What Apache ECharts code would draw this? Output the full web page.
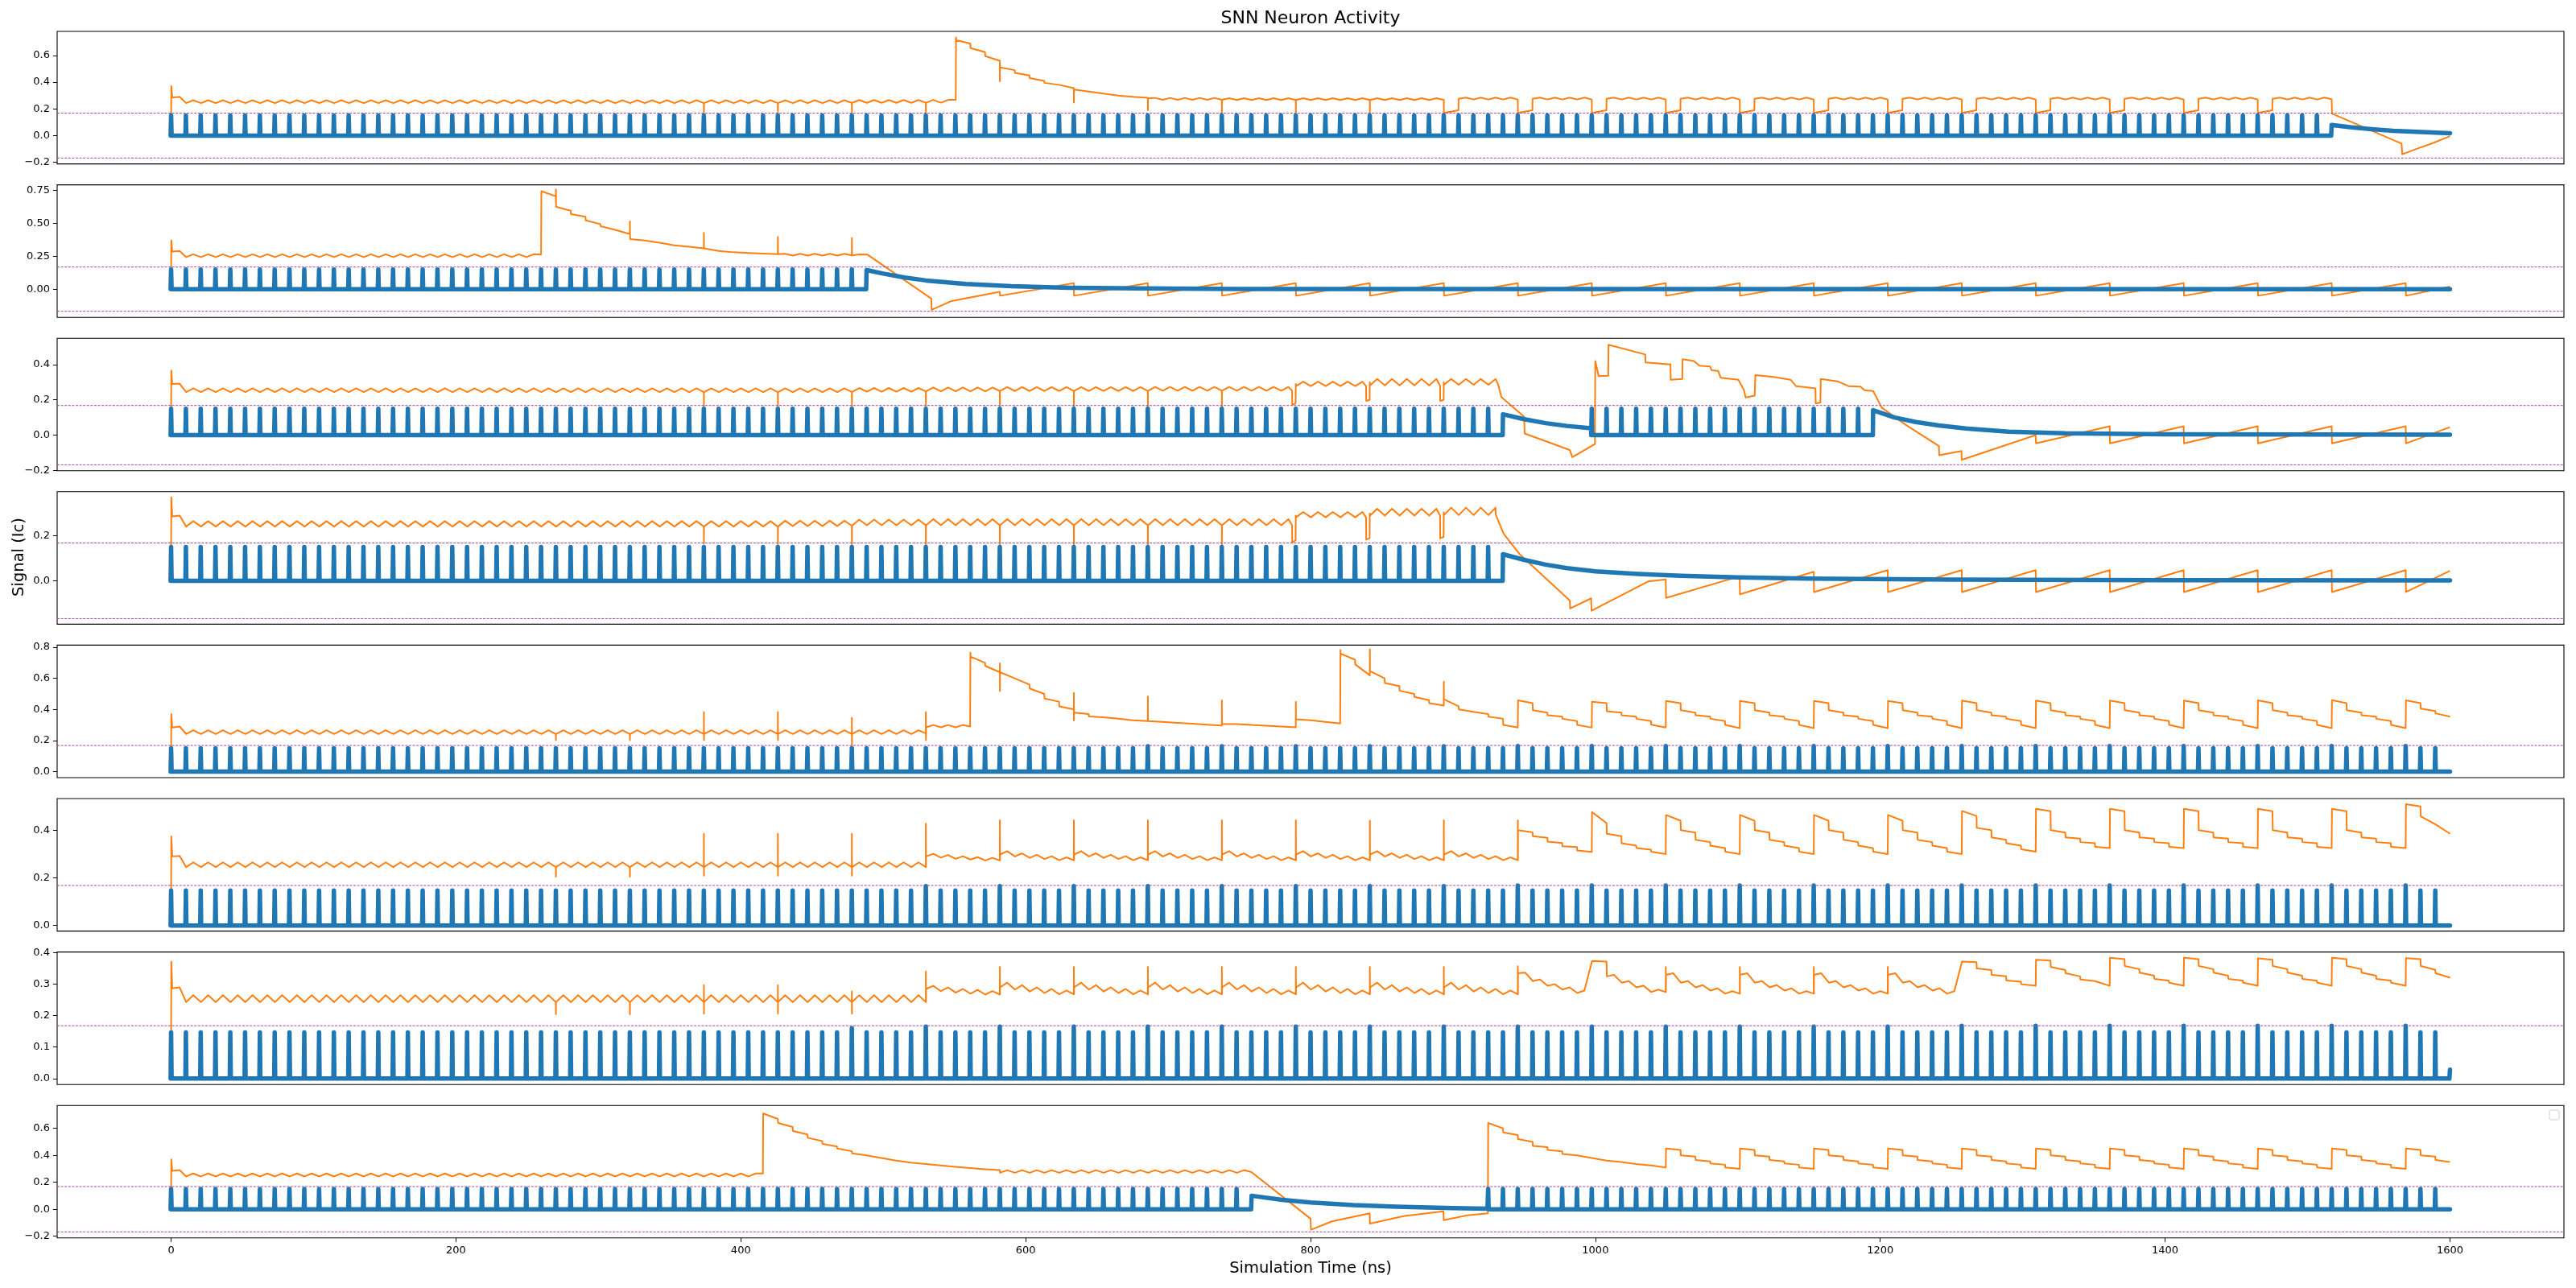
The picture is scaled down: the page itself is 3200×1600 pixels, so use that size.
<!DOCTYPE html>
<html><head><meta charset="utf-8">
<script src="https://cdn.jsdelivr.net/npm/echarts@6/dist/echarts.min.js"></script>
<style>html,body{margin:0;padding:0;background:#fff}#c{width:3200px;height:1600px}</style>
</head><body><div id="c"></div>
<script>
// spike spacing (ns)
const SPIKE_PERIOD = 10.39;
const P = SPIKE_PERIOD;

const xTicks = [0,200,400,600,800,1000,1200,1400,1600];
const yMin = [-0.212,-0.214,-0.202,-0.193,-0.039,-0.0235,-0.019,-0.213];
const yMax = [0.78,0.792,0.549,0.396,0.814,0.533,0.4025,0.77];
const yTicks = [[-0.2,0,0.2,0.4,0.6],[0,0.25,0.5,0.75],[-0.2,0,0.2,0.4],[0,0.2],[0,0.2,0.4,0.6,0.8],[0,0.2,0.4],[0,0.1,0.2,0.3,0.4],[-0.2,0,0.2,0.4,0.6]];
const yDecimals = [1,2,1,1,1,1,1,1];
const thresholds = [0.168,-0.168];

// entry codes: v=[t,v] vertex, t=teeth run, z=teeth list, s=step list, x=narrow excursion,
// y=double excursion, n=notch, r=ramps every 5 spikes, p=spike run
const orange1 = [
 ['v',0,0.1],['v',0.15,0.37],['v',0.8,0.285],['v',6,0.29],
 ['t',1,35,0.243,0.265],
 ['x',36,0.17,0.243],['t',36,5,0.243,0.265],
 ['x',41,0.17,0.243],['t',41,5,0.243,0.265],
 ['x',46,0.17,0.245],['t',46,5,0.245,0.266],
 ['x',51,0.17,0.246],['t',51,2,0.246,0.267],
 ['v',550.9,0.268],['v',551.1,0.735],
 ['s',53,0.715,0.69,0.655,0.625,0.595,0.56],
 ['x',56,0.406,0.53],
 ['s',56,0.51,0.49,0.47,0.45,0.43,0.41,0.395,0.38,0.37,0.355],
 ['x',61,0.246,0.345],
 ['s',61,0.34,0.33,0.322,0.314,0.306,0.3,0.295,0.29,0.287,0.283],
 ['x',66,0.19,0.28],['t',66,5,0.268,0.282],
 ['x',71,0.17,0.268],['t',71,5,0.266,0.28],
 ['x',76,0.17,0.266],['t',76,5,0.266,0.28],
 ['x',81,0.17,0.266],['t',81,5,0.266,0.28],
 ['n',86,87,0.268,0.17,0.19,0.275],['t',87,4,0.27,0.284],
 ['n',91,92,0.27,0.17,0.19,0.275],['t',92,4,0.27,0.284],
 ['n',96,97,0.27,0.17,0.19,0.275],['t',97,4,0.27,0.284],
 ['n',101,102,0.27,0.17,0.19,0.275],['t',102,4,0.27,0.284],
 ['n',106,107,0.27,0.17,0.19,0.275],['t',107,4,0.27,0.284],
 ['n',111,112,0.27,0.17,0.19,0.275],['t',112,4,0.27,0.284],
 ['n',116,117,0.27,0.17,0.19,0.275],['t',117,4,0.27,0.284],
 ['n',121,122,0.27,0.17,0.19,0.275],['t',122,4,0.27,0.284],
 ['n',126,127,0.27,0.17,0.19,0.275],['t',127,4,0.27,0.284],
 ['n',131,132,0.27,0.17,0.19,0.275],['t',132,4,0.27,0.284],
 ['n',136,137,0.27,0.17,0.19,0.275],['t',137,4,0.27,0.284],
 ['n',141,142,0.27,0.17,0.19,0.275],['t',142,4,0.27,0.284],
 ['v',1516.9,0.272],['v',1517.2,0.165],['v',1566,-0.06],['v',1566.5,-0.14],['v',1577,-0.098],['v',1588,-0.056],['v',1600,-0.004]
];
const orange2 = [
 ['v',0,0.1],['v',0.15,0.37],['v',0.8,0.285],['v',6,0.29],
 ['t',1,24,0.243,0.265],
 ['v',259.75,0.262],['v',259.95,0.744],
 ['s',25,0.735,0.705],
 ['x',26,0.758,0.652],
 ['s',26,0.625,0.595,0.57,0.55,0.522,0.494,0.478,0.45,0.438,0.418],
 ['x',31,0.514,0.407],
 ['s',31,0.38,0.37,0.362,0.352,0.343,0.333,0.33,0.322,0.316,0.31],
 ['x',36,0.428,0.31],
 ['s',36,0.298,0.29,0.287,0.28,0.28,0.274,0.275,0.27,0.27,0.266],
 ['x',41,0.397,0.266],['t',41,5,0.255,0.268],
 ['x',46,0.387,0.256],['t',46,1,0.256,0.264],
 ['v',489,0.262],['v',533.7,-0.071],['v',534,-0.157],['v',548,-0.09],['v',581.8,-0.02],
 ['r',56,19,-0.05,0.045],
 ['v',1569.1,-0.05],['v',1600,0.02]
];
const orange3 = [
 ['v',0,0.1],['v',0.15,0.366],['v',0.8,0.29],['v',6,0.292],
 ['t',1,35,0.244,0.265],
 ['x',36,0.165,0.244],['t',36,5,0.244,0.265],
 ['x',41,0.165,0.244],['t',41,5,0.244,0.265],
 ['x',46,0.165,0.245],['t',46,5,0.246,0.267],
 ['x',51,0.165,0.248],['t',51,5,0.248,0.27],
 ['x',56,0.16,0.25],['t',56,5,0.25,0.272],
 ['x',61,0.16,0.25],['t',61,5,0.25,0.272],
 ['x',66,0.135,0.25],['t',66,5,0.252,0.273],
 ['x',71,0.13,0.252],['t',71,5,0.252,0.273],
 ['n',75.75,76,0.252,0.171,0.18,0.29],['t',76,5,0.278,0.303],
 ['n',80.75,81,0.278,0.194,0.2,0.3],['t',81,5,0.282,0.318],
 ['n',85.75,86,0.28,0.194,0.2,0.3],['t',86,4,0.285,0.318],
 ['v',931.6,0.29],['v',934,0.216],['v',950,0.104],['v',950.3,0.009],['v',982,-0.084],['v',983.8,-0.125],['v',999.7,-0.051],
 ['v',999.9,0.42],['v',1002.3,0.334],['v',1009,0.337],['v',1009.2,0.512],['v',1035,0.457],['v',1035.2,0.412],['v',1052.7,0.4],
 ['v',1052.9,0.314],['v',1061,0.318],['v',1061.2,0.43],['v',1069.2,0.42],['v',1073,0.394],['v',1080.4,0.389],['v',1081.7,0.367],
 ['v',1086.2,0.364],['v',1088,0.325],['v',1100.4,0.314],['v',1101.7,0.294],['v',1104.2,0.258],['v',1105.5,0.213],['v',1111.8,0.224],
 ['v',1112.3,0.34],['v',1125,0.33],['v',1137,0.314],['v',1141,0.277],['v',1149,0.27],['v',1154.5,0.265],['v',1154.7,0.179],
 ['v',1158,0.185],['v',1158.2,0.318],['v',1170,0.305],['v',1178,0.277],['v',1186,0.275],['v',1189,0.254],['v',1195,0.25],
 ['v',1201,0.156],['v',1218,0.058],['v',1241.2,-0.062],['v',1241.4,-0.114],['v',1257,-0.09],['v',1257.2,-0.14],['v',1309.1,0.0],
 ['r',126,5,-0.047,0.05],
 ['v',1569.1,-0.047],['v',1600,0.045]
];
const orange4 = [
 ['v',0,0.1],['v',0.15,0.371],['v',0.8,0.286],['v',6,0.29],
 ['t',1,35,0.241,0.265],
 ['x',36,0.165,0.241],['t',36,5,0.241,0.265],
 ['x',41,0.16,0.241],['t',41,5,0.243,0.267],
 ['x',46,0.154,0.245],['t',46,5,0.247,0.272],
 ['x',51,0.154,0.247],['t',51,5,0.247,0.274],
 ['x',56,0.154,0.247],['t',56,5,0.247,0.274],
 ['x',61,0.154,0.247],['t',61,5,0.247,0.274],
 ['x',66,0.13,0.247],['t',66,5,0.247,0.274],
 ['x',71,0.13,0.247],['t',71,5,0.247,0.274],
 ['n',75.75,76,0.247,0.17,0.18,0.29],['t',76,5,0.282,0.306],
 ['n',80.75,81,0.282,0.183,0.19,0.3],['t',81,5,0.29,0.32],
 ['n',85.75,86,0.29,0.189,0.195,0.305],['t',86,4,0.292,0.325],
 ['v',930,0.295],['v',935.5,0.21],['v',947,0.117],['v',982,-0.088],['v',982.3,-0.123],['v',997,-0.078],['v',997.3,-0.133],
 ['v',1037,-0.003],['v',1049.4,0.006],['v',1049.6,-0.076],['v',1101.3,0.02],['v',1101.5,-0.06],['v',1153.3,0.04],
 ['r',111,8,-0.05,0.047],
 ['v',1569.1,-0.05],['v',1600,0.044]
];
const orange5 = [
 ['v',0,0.1],['v',0.15,0.371],['v',0.8,0.284],['v',6,0.29],
 ['t',1,25,0.242,0.266],
 ['x',26,0.202,0.242],['t',26,5,0.242,0.266],
 ['x',31,0.202,0.242],['t',31,5,0.242,0.266],
 ['y',36,0.383,0.202,0.242],['t',36,5,0.242,0.266],
 ['y',41,0.383,0.202,0.242],['t',41,5,0.242,0.266],
 ['y',46,0.346,0.167,0.242],['t',46,5,0.242,0.266],
 ['y',51,0.383,0.202,0.245],['t',51,3,0.285,0.3],
 ['v',561.0,0.29],['v',561.2,0.765],
 ['s',54,0.74,0.7,0.68,0.64],
 ['y',56,0.697,0.518,0.64],
 ['s',56,0.63,0.6,0.59,0.56,0.535,0.5,0.47,0.45,0.42,0.4],
 ['y',61,0.506,0.329,0.4],
 ['s',61,0.38,0.37,0.355,0.35,0.345,0.34,0.335,0.33,0.33,0.325],
 ['x',66,0.483,0.325],
 ['s',66,0.325,0.32,0.318,0.314,0.312,0.308,0.306,0.302,0.3,0.297],
 ['x',71,0.458,0.305],
 ['s',71,0.31,0.305,0.305,0.3,0.3,0.295,0.295,0.29,0.29,0.285],
 ['x',76,0.45,0.337],
 ['s',76,0.337,0.33,0.325,0.32,0.32,0.31],
 ['v',820.8,0.31],['v',821.0,0.782],
 ['s',79,0.76,0.72,0.69,0.62],
 ['x',81,0.787,0.647],
 ['s',81,0.647,0.6,0.57,0.55,0.52,0.5,0.48,0.46,0.44,0.425],
 ['x',86,0.578,0.466],
 ['s',86,0.466,0.42,0.4,0.385,0.38,0.37,0.354,0.34,0.3,0.284],
 ['s',91,0.458,0.44,0.395,0.38,0.362,0.354,0.34,0.325,0.3,0.283],
 ['s',96,0.449,0.44,0.388,0.38,0.362,0.354,0.34,0.325,0.302,0.284],
 ['s',101,0.455,0.44,0.395,0.38,0.362,0.354,0.34,0.325,0.3,0.28],
 ['s',106,0.455,0.44,0.395,0.38,0.362,0.354,0.34,0.325,0.3,0.28],
 ['s',111,0.455,0.44,0.395,0.38,0.362,0.354,0.34,0.325,0.3,0.28],
 ['s',116,0.455,0.44,0.395,0.38,0.362,0.354,0.34,0.325,0.3,0.28],
 ['s',121,0.457,0.44,0.395,0.38,0.362,0.354,0.34,0.325,0.3,0.28],
 ['s',126,0.457,0.44,0.395,0.38,0.362,0.354,0.34,0.325,0.3,0.28],
 ['s',131,0.457,0.44,0.395,0.38,0.362,0.354,0.34,0.325,0.3,0.28],
 ['s',136,0.457,0.44,0.395,0.38,0.362,0.354,0.34,0.325,0.3,0.28],
 ['s',141,0.458,0.44,0.395,0.38,0.362,0.354,0.34,0.325,0.3,0.28],
 ['s',146,0.46,0.44,0.395,0.38,0.362,0.354,0.34,0.325,0.3,0.28],
 ['s',151,0.458,0.44,0.405,0.39,0.375,0.354]
];
const orange6 = [
 ['v',0,0.1],['v',0.15,0.374],['v',0.8,0.29],['v',6,0.292],
 ['t',1,25,0.245,0.265],
 ['x',26,0.205,0.245],['t',26,5,0.245,0.265],
 ['x',31,0.205,0.245],['t',31,5,0.245,0.265],
 ['y',36,0.385,0.209,0.245],['t',36,5,0.245,0.265],
 ['y',41,0.385,0.209,0.245],['t',41,5,0.245,0.265],
 ['y',46,0.385,0.209,0.245],['t',46,5,0.245,0.265],
 ['x',51,0.427,0.245],['z',51,0.29,0.301,0.285,0.296,0.28,0.291,0.277,0.287,0.273,0.284],
 ['x',56,0.442,0.273],['z',56,0.298,0.312,0.29,0.303,0.284,0.297,0.279,0.291,0.274,0.286],
 ['x',61,0.442,0.274],['z',61,0.298,0.312,0.29,0.303,0.284,0.297,0.279,0.291,0.274,0.286],
 ['x',66,0.442,0.274],['z',66,0.298,0.312,0.29,0.303,0.284,0.297,0.279,0.291,0.274,0.286],
 ['x',71,0.442,0.274],['z',71,0.298,0.312,0.29,0.303,0.284,0.297,0.279,0.291,0.274,0.286],
 ['x',76,0.442,0.274],['z',76,0.298,0.312,0.29,0.303,0.284,0.297,0.279,0.291,0.274,0.286],
 ['x',81,0.44,0.274],['z',81,0.298,0.312,0.29,0.303,0.284,0.297,0.279,0.291,0.274,0.286],
 ['x',86,0.442,0.274],['z',86,0.298,0.312,0.29,0.303,0.284,0.297,0.279,0.291,0.274,0.286],
 ['x',91,0.442,0.274],['s',91,0.4,0.391,0.375,0.368,0.352,0.346,0.333,0.329,0.315,0.309],
 ['s',96,0.476,0.43,0.385,0.375,0.345,0.335,0.325,0.318,0.31,0.3],
 ['s',101,0.464,0.44,0.4,0.39,0.36,0.35,0.335,0.325,0.31,0.3],
 ['s',106,0.464,0.44,0.4,0.39,0.36,0.35,0.335,0.325,0.31,0.3],
 ['s',111,0.464,0.44,0.4,0.39,0.36,0.35,0.335,0.325,0.31,0.3],
 ['s',116,0.464,0.44,0.4,0.39,0.36,0.35,0.335,0.325,0.31,0.3],
 ['s',121,0.481,0.46,0.41,0.4,0.37,0.36,0.345,0.335,0.32,0.31],
 ['s',126,0.49,0.48,0.4,0.39,0.37,0.365,0.35,0.345,0.33,0.325],
 ['s',131,0.49,0.48,0.4,0.39,0.37,0.365,0.35,0.345,0.33,0.325],
 ['s',136,0.49,0.48,0.4,0.39,0.37,0.365,0.35,0.345,0.33,0.325],
 ['s',141,0.49,0.48,0.4,0.39,0.37,0.365,0.35,0.345,0.33,0.325],
 ['s',146,0.49,0.48,0.4,0.39,0.37,0.365,0.35,0.345,0.33,0.325],
 ['s',151,0.509,0.5,0.458,0.425,0.42,0.385]
];
const orange7 = [
 ['v',0,0.1],['v',0.15,0.372],['v',0.8,0.287],['v',6,0.29],
 ['t',1,25,0.243,0.265],
 ['x',26,0.204,0.243],['t',26,5,0.243,0.265],
 ['x',31,0.204,0.243],['t',31,5,0.243,0.265],
 ['y',36,0.297,0.206,0.243],['t',36,5,0.243,0.265],
 ['y',41,0.297,0.206,0.243],['t',41,5,0.243,0.265],
 ['y',46,0.277,0.206,0.243],['t',46,5,0.243,0.265],
 ['x',51,0.34,0.243],['z',51,0.285,0.295,0.278,0.29,0.273,0.285,0.27,0.282,0.267,0.278],
 ['x',56,0.355,0.267],['z',56,0.29,0.305,0.283,0.297,0.277,0.29,0.272,0.285,0.268,0.28],
 ['x',61,0.355,0.268],['z',61,0.29,0.305,0.283,0.297,0.277,0.29,0.272,0.285,0.268,0.28],
 ['x',66,0.355,0.268],['z',66,0.29,0.305,0.283,0.297,0.277,0.29,0.272,0.285,0.268,0.28],
 ['x',71,0.355,0.268],['z',71,0.29,0.305,0.283,0.297,0.277,0.29,0.272,0.285,0.268,0.28],
 ['x',76,0.355,0.268],['z',76,0.29,0.305,0.283,0.297,0.277,0.29,0.272,0.285,0.268,0.28],
 ['x',81,0.355,0.268],['z',81,0.29,0.305,0.283,0.297,0.277,0.29,0.272,0.285,0.268,0.28],
 ['x',86,0.355,0.268],['z',86,0.29,0.305,0.283,0.297,0.277,0.29,0.272,0.285,0.268,0.28],
 ['x',91,0.357,0.268],['z',91,0.335,0.337,0.31,0.315,0.295,0.3,0.283,0.29,0.272,0.28],
 ['s',96,0.374,0.372],['z',97,0.325,0.33,0.305,0.31,0.29,0.295,0.275,0.283],
 ['x',101,0.355,0.275],['z',101,0.33,0.335,0.305,0.31,0.29,0.297,0.28,0.287,0.27,0.278],
 ['x',106,0.355,0.27],['z',106,0.33,0.335,0.305,0.31,0.29,0.297,0.28,0.287,0.27,0.278],
 ['x',111,0.355,0.27],['z',111,0.33,0.335,0.305,0.31,0.29,0.297,0.28,0.287,0.27,0.278],
 ['x',116,0.355,0.27],['z',116,0.33,0.335,0.305,0.31,0.29,0.297,0.28,0.287,0.27,0.278],
 ['s',121,0.372,0.37,0.35,0.345,0.33,0.325,0.312,0.308,0.3,0.295],
 ['s',126,0.378,0.375,0.355,0.345,0.335,0.325,0.315,0.31,0.305,0.295],
 ['s',131,0.384,0.38,0.358,0.348,0.337,0.327,0.317,0.311,0.305,0.295],
 ['s',136,0.384,0.38,0.358,0.348,0.337,0.327,0.317,0.311,0.305,0.295],
 ['s',141,0.382,0.378,0.358,0.348,0.337,0.327,0.317,0.311,0.305,0.295],
 ['s',146,0.384,0.38,0.358,0.348,0.337,0.327,0.317,0.311,0.305,0.295],
 ['s',151,0.383,0.38,0.358,0.346,0.335,0.321]
];
const orange8 = [
 ['v',0,0.1],['v',0.15,0.37],['v',0.8,0.285],['v',6,0.29],
 ['t',1,39,0.243,0.265],
 ['v',415.5,0.265],['v',415.7,0.71],
 ['s',40,0.7,0.67,0.64,0.61,0.58,0.555,0.53,0.505,0.485,0.465,0.45,0.43,0.415,0.4,0.39,0.38,0.37,0.36,0.35,0.345,0.34,0.335,0.33,0.325,0.32,0.315,0.31,0.305,0.3,0.297,0.295,0.29],
 ['t',56,17,0.27,0.29],
 ['v',758.5,0.275],['v',800,-0.07],['v',800.3,-0.152],['v',815,-0.09],['v',841.5,-0.03],['v',841.7,-0.107],['v',866,-0.05],
 ['v',893.3,-0.015],['v',893.5,-0.081],['v',910,-0.045],['v',924.5,-0.03],['v',924.7,0.64],
 ['s',89,0.63,0.6,0.57,0.55,0.52,0.5,0.47,0.46,0.44,0.43,0.41,0.4,0.39,0.38,0.37,0.36,0.355,0.35,0.34,0.335,0.33,0.325,0.32,0.31],
 ['s',101,0.45,0.44,0.4,0.39,0.365,0.355,0.34,0.33,0.31,0.3],
 ['s',106,0.45,0.44,0.4,0.39,0.365,0.355,0.34,0.33,0.31,0.3],
 ['s',111,0.45,0.44,0.4,0.39,0.365,0.355,0.34,0.33,0.31,0.3],
 ['s',116,0.45,0.44,0.4,0.39,0.365,0.355,0.34,0.33,0.31,0.3],
 ['s',121,0.45,0.44,0.4,0.39,0.365,0.355,0.34,0.33,0.31,0.3],
 ['s',126,0.45,0.44,0.4,0.39,0.365,0.355,0.34,0.33,0.31,0.3],
 ['s',131,0.45,0.44,0.4,0.39,0.365,0.355,0.34,0.33,0.31,0.3],
 ['s',136,0.45,0.44,0.4,0.39,0.365,0.355,0.34,0.33,0.31,0.3],
 ['s',141,0.45,0.44,0.4,0.39,0.365,0.355,0.34,0.33,0.31,0.3],
 ['s',146,0.45,0.44,0.4,0.39,0.365,0.355,0.34,0.33,0.31,0.3],
 ['s',151,0.45,0.44,0.4,0.39,0.365,0.35]
];

const blue1 = [['p',0,145,0.15],['v',1516.6,0],['v',1516.9,0.08],['v',1530,0.063],['v',1545,0.048],['v',1560,0.036],['v',1580,0.026],['v',1600,0.018]];
const blue2 = [['p',0,46,0.15],['v',488,0],['v',488.3,0.145],['v',500,0.118],['v',515,0.088],['v',530,0.066],['v',558,0.04],['v',590,0.022],['v',630,0.011],['v',680,0.005],['v',750,0.001],['v',1600,0]];
const blue3 = [['p',0,89,0.15],['v',934.9,0],['v',935.1,0.118],['v',950,0.09],['v',965,0.068],['v',980,0.052],['v',997,0.039],['v',997.05,0],['p',96,114,0.15],['v',1194.8,0],['v',1195,0.141],['v',1210,0.1],['v',1225,0.074],['v',1241,0.055],['v',1260,0.038],['v',1290,0.02],['v',1330,0.01],['v',1400,0.005],['v',1600,0.002]];
const blue4 = [['p',0,89,0.15],['v',934.9,0],['v',935.1,0.118],['v',950,0.093],['v',965,0.072],['v',980,0.056],['v',1000,0.042],['v',1030,0.03],['v',1060,0.022],['v',1100,0.015],['v',1150,0.01],['v',1250,0.005],['v',1400,0.003],['v',1600,0.002]];
const blue5 = [['p',0,153,0.15],['v',1600,0]];
const blue6 = [['p',0,153,0.147],['v',1600,0]];
const blue7 = [['p',0,153,0.147],['v',1599.6,0],['v',1600,0.028]];
const blue8 = [['p',0,72,0.15],['v',758.3,0],['v',758.6,0.1],['v',780,0.07],['v',800,0.05],['v',830,0.03],['v',860,0.018],['v',900,0.008],['v',924.2,0.004],['v',924.3,0],['p',89,153,0.15],['v',1600,0]];

// taller spikes: [spike index, height]
const tall5 = [[66,0.163],[71,0.163],[76,0.163],[81,0.163],[86,0.163],[91,0.165],[96,0.165],[101,0.165],[106,0.165],[111,0.165],[116,0.165],[121,0.165],[126,0.165],[131,0.165],[136,0.165],[141,0.165],[146,0.165],[151,0.165]];
const tall6 = [[51,0.165],[56,0.165],[61,0.165],[66,0.165],[71,0.165],[76,0.165],[81,0.165],[86,0.165],[91,0.168],[96,0.168],[101,0.168],[106,0.168],[111,0.168],[116,0.168],[121,0.168],[126,0.168],[131,0.168],[136,0.168],[141,0.168],[146,0.168],[151,0.168]];
const tall7 = [[46,0.16],[51,0.165],[56,0.165],[61,0.165],[66,0.165],[71,0.165],[76,0.165],[81,0.165],[86,0.165],[91,0.165],[96,0.165],[101,0.165],[106,0.165],[111,0.165],[116,0.165],[121,0.168],[126,0.168],[131,0.168],[136,0.168],[141,0.168],[146,0.168],[151,0.168]];

const oranges = [orange1,orange2,orange3,orange4,orange5,orange6,orange7,orange8];
const blues = [blue1,blue2,blue3,blue4,blue5,blue6,blue7,blue8];
const talls = [[],[],[],[],tall5,tall6,tall7,[]];

function build(entries, tall){
  const tm = new Map(tall || []);
  const out = [];
  for (const e of entries){
    const c = e[0];
    if (c==='v'){ out.push([e[1],e[2]]); }
    else if (c==='t'){ for(let i=0;i<e[2];i++){ const t=(e[1]+i)*P; out.push([t+0.2,e[3]],[t+P/2,e[4]]); } }
    else if (c==='z'){ for(let i=0;3+2*i<e.length;i++){ const t=(e[1]+i)*P; out.push([t+0.2,e[2+2*i]],[t+P/2,e[3+2*i]]); } }
    else if (c==='s'){ for(let i=0;3+2*i<e.length;i++){ const t=(e[1]+i)*P; out.push([t+0.2,e[2+2*i]],[t+P,e[3+2*i]]); } }
    else if (c==='x'){ const t=e[1]*P; out.push([t,e[3]],[t+0.05,e[2]],[t+0.12,e[3]]); }
    else if (c==='y'){ const t=e[1]*P; out.push([t,e[4]],[t+0.04,e[2]],[t+0.08,e[3]],[t+0.12,e[4]]); }
    else if (c==='n'){ const a=e[1]*P, b=e[2]*P; out.push([a,e[3]],[a+0.1,e[4]],[b-0.1,e[5]],[b,e[6]]); }
    else if (c==='r'){ for(let i=0;i<e[2];i++){ const ts=(e[1]+5*i)*P; out.push([ts+0.2,e[3]],[ts+5*P,e[4]]); } }
    else if (c==='p'){ for(let k=e[1];k<=e[2];k++){ const t=k*P; const h=tm.has(k)?tm.get(k):e[3]; out.push([t-0.35,0],[t,h],[t+0.35,0]); } }
  }
  return out;
}

function fmt(v,d){ const s=Math.abs(v).toFixed(d); return (v< -1e-9?'\u2212':'')+s; }

const FONT='"DejaVu Sans", sans-serif';
const GRID_LEFT=71, GRID_W=3114, GRID_TOP0=39, GRID_STEP=190.6, GRID_H=164.6;
const grids=[], xAxes=[], yAxes=[], series=[];
for (let i=0;i<8;i++){
  const last = i===7;
  grids.push({left:GRID_LEFT, top:GRID_TOP0+GRID_STEP*i, width:GRID_W, height:GRID_H, show:true, borderColor:'#000', borderWidth:1.1, backgroundColor:'#fff'});
  xAxes.push({type:'value', gridIndex:i, position:'bottom', min:-80, max:1680, axisLine:{show:false, onZero:false}, splitLine:{show:false},
    axisTick:{show:last, customValues:xTicks, length:5, lineStyle:{color:'#000', width:1}},
    axisLabel:{show:last, customValues:xTicks, margin:9, fontSize:13, color:'#000', fontFamily:FONT, formatter:(v)=>String(Math.round(v))}});
  const dec = yDecimals[i];
  yAxes.push({type:'value', gridIndex:i, position:'left', min:yMin[i], max:yMax[i], axisLine:{show:false, onZero:false}, splitLine:{show:false},
    axisTick:{show:true, customValues:yTicks[i], length:5, lineStyle:{color:'#000', width:1}},
    axisLabel:{customValues:yTicks[i], margin:9, fontSize:13, color:'#000', fontFamily:FONT, formatter:(v)=>fmt(v,dec)}});
  series.push({type:'line', xAxisIndex:i, yAxisIndex:i, data:build(oranges[i]), symbol:'none', showSymbol:false, silent:true, animation:false, clip:true,
    lineStyle:{color:'#ff7f0e', width:2, join:'round'}, z:2});
  series.push({type:'line', xAxisIndex:i, yAxisIndex:i, data:build(blues[i], talls[i]), symbol:'none', showSymbol:false, silent:true, animation:false, clip:true,
    lineStyle:{color:'#1f77b4', width:5.5, join:'round', cap:'round'}, z:3});
  for (const th of thresholds){
    series.push({type:'line', xAxisIndex:i, yAxisIndex:i, data:[[-80,th],[1680,th]], symbol:'none', showSymbol:false, silent:true, animation:false, clip:true,
      lineStyle:{color:'#a347a3', width:1, type:[3,1.6]}, z:4});
  }
}

const chart = echarts.init(document.getElementById('c'), null, {renderer:'canvas', width:3200, height:1600});
chart.setOption({
  backgroundColor:'#fff',
  animation:false,
  grid:grids, xAxis:xAxes, yAxis:yAxes, series:series,
  graphic:[
    {type:'text', x:1628, y:23, style:{text:'SNN Neuron Activity', font:'22px '+FONT, fill:'#000', align:'center', verticalAlign:'middle', textAlign:'center', textVerticalAlign:'middle'}},
    {type:'text', x:1628, y:1576, style:{text:'Simulation Time (ns)', font:'19.5px '+FONT, fill:'#000', align:'center', verticalAlign:'middle', textAlign:'center', textVerticalAlign:'middle'}},
    {type:'text', x:24, y:692, rotation:Math.PI/2, style:{text:'Signal (Ic)', font:'19.5px '+FONT, fill:'#000', align:'center', verticalAlign:'middle', textAlign:'center', textVerticalAlign:'middle'}},
    {type:'rect', shape:{x:3167, y:1379, width:12, height:12, r:2}, style:{fill:'rgba(255,255,255,0.8)', stroke:'#d0d0d0', lineWidth:1}, z:100}
  ]
});
</script></body></html>
